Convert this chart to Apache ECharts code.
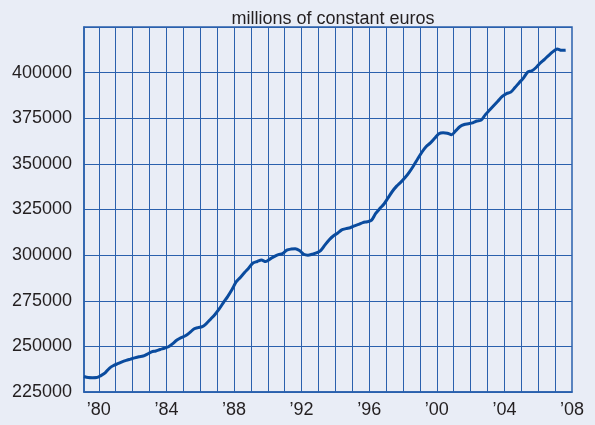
<!DOCTYPE html>
<html>
<head>
<meta charset="utf-8">
<script src="https://cdn.jsdelivr.net/npm/echarts@6/dist/echarts.min.js"></script>
<style>
  html, body { margin: 0; padding: 0; background: #e9edf6; }
  #chart { width: 595px; height: 425px; }
</style>
</head>
<body>
<div id="chart"></div>
<script>
// quarterly series, first point = 1979 Q1
var startYear = 1979;
var gdp = [
  233500, 232900, 232800, 232900,
  234000, 235500, 238000, 239500,
  240500, 241500, 242300, 243000,
  243700, 244300, 244700, 245800,
  247000, 247500, 248300, 249000,
  249800, 251500, 253500, 254800,
  255800, 257500, 259500, 260300,
  260800, 262600, 265000, 267500,
  270500, 274000, 277300, 281000,
  285300, 287800, 290500, 293000,
  295700, 296500, 297300, 296500,
  297800, 299200, 300300, 300900,
  302700, 303300, 303500, 302500,
  300500, 300000, 300500, 301200,
  302500, 305500, 308300, 310500,
  312000, 313800, 314500, 315000,
  316000, 316800, 317800, 318300,
  319000, 322700, 325500, 328000,
  331500, 335000, 337800, 340000,
  342500, 345500, 349000, 352800,
  356500, 359500, 361500, 364000,
  366500, 367000, 366800, 366000,
  368200, 370500, 371600, 372000,
  372500, 373500, 374000, 377000,
  379500, 382000, 384500, 387000,
  388500, 389300, 391800, 394500,
  397000, 400300, 401000, 402800,
  405300, 407300, 409500, 411500,
  413000, 412200, 412300
];
var yearLines = [];
for (var y = 1980; y <= 2007; y++) yearLines.push(y);
var yearLabels = [1980, 1984, 1988, 1992, 1996, 2000, 2004, 2008];
var title = 'millions of constant euros';

// points sit at the middle of each quarter
var points = gdp.map(function (v, i) {
  return [startYear + (i + 0.5) / 4, v];
});

var gridColor = '#2a60ad';
var textColor = '#231f20';
var font = 'Liberation Sans, Arial, Helvetica, sans-serif';

var myChart = echarts.init(document.getElementById('chart'));
myChart.setOption({
  backgroundColor: '#e9edf6',
  animation: false,
  title: {
    text: title,
    left: 328,
    top: 5,
    textAlign: 'center',
    textStyle: { color: textColor, fontSize: 18, fontWeight: 'normal', fontFamily: font }
  },
  grid: {
    left: 84, right: 23, top: 27, bottom: 33,
    show: true,
    borderColor: gridColor,
    borderWidth: 1.5,
    backgroundColor: 'transparent'
  },
  xAxis: {
    type: 'value',
    min: 1979.125,
    max: 2008,
    axisLine: { show: true, lineStyle: { color: gridColor, width: 1.5 } },
    axisTick: { show: false, customValues: yearLines },
    splitLine: { show: true, lineStyle: { color: gridColor, width: 1 } },
    axisLabel: {
      customValues: yearLabels,
      margin: 9,
      color: textColor,
      fontSize: 18,
      fontFamily: font,
      formatter: function (v) { return '\u2019' + String(Math.round(v)).slice(2); }
    }
  },
  yAxis: {
    type: 'value',
    min: 225000,
    max: 425000,
    interval: 25000,
    axisLine: { show: true, lineStyle: { color: gridColor, width: 1.5 } },
    axisTick: { show: false },
    splitLine: { show: true, lineStyle: { color: gridColor, width: 1.2 } },
    axisLabel: {
      margin: 12,
      color: textColor,
      fontSize: 18,
      fontFamily: font,
      showMaxLabel: false,
      formatter: function (v) { return String(v); }
    }
  },
  series: [{
    type: 'line',
    data: points,
    showSymbol: false,
    smooth: 0.3,
    lineStyle: { color: '#0a4b9e', width: 3 },
    itemStyle: { color: '#0a4b9e' }
  }]
});
</script>
</body>
</html>
